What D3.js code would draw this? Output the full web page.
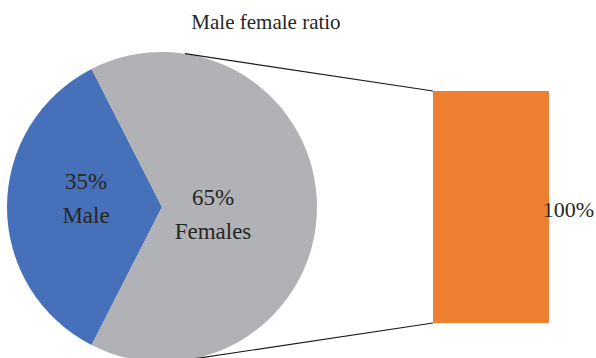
<!DOCTYPE html>
<html>
<head>
<meta charset="utf-8">
<script src="https://cdn.jsdelivr.net/npm/d3@7"></script>
<style>
  body { margin: 0; background: #fff; }
  svg text { font-family: "Liberation Serif", "Times New Roman", "DejaVu Serif", serif; fill: #262626; }
</style>
</head>
<body>
<div id="graphic"></div>
<script>
// chart data
var categories = ["Male", "Females"];
var values = [35, 65];
var barCategories = ["Females"];
var barValues = [100];
var colours = ["#4670B9", "#B1B2B5"];
var barColour = "#EE7F31";

var width = 596, height = 358;

var svg = d3.select("#graphic").append("svg")
  .attr("width", width)
  .attr("height", height);

// title
svg.append("text")
  .attr("x", 266)
  .attr("y", 29)
  .attr("text-anchor", "middle")
  .style("font-size", "21px")
  .text("Male female ratio");

// pie
var cx = 162, cy = 207, radius = 155;
var data = d3.zip(categories, values);

var pie = d3.pie()
  .value(d => d[1])
  .sort(null)
  .startAngle(-Math.PI * 0.35 - Math.PI / 2)
  .endAngle(Math.PI * 2 - Math.PI * 0.35 - Math.PI / 2);

var arcs = pie(data);
var arc = d3.arc().innerRadius(0).outerRadius(radius);

var pieG = svg.append("g").attr("transform", "translate(" + cx + "," + cy + ")");

pieG.selectAll("path")
  .data(arcs)
  .join("path")
  .attr("d", arc)
  .attr("fill", (d, i) => colours[i]);

var labelPos = [[-76, -18], [51, -2]];
var labels = pieG.selectAll("g.label")
  .data(arcs)
  .join("g")
  .attr("class", "label")
  .attr("transform", (d, i) => "translate(" + labelPos[i][0] + "," + labelPos[i][1] + ")");

labels.append("text")
  .attr("text-anchor", "middle")
  .style("font-size", "23px")
  .text(d => d.data[1] + "%");

labels.append("text")
  .attr("text-anchor", "middle")
  .attr("y", 34)
  .style("font-size", "23px")
  .text(d => d.data[0]);

// bar
var y = d3.scaleLinear().domain([0, 100]).range([323, 91]);
var barX = 433, barW = 116;

svg.selectAll("rect.bar")
  .data(barValues)
  .join("rect")
  .attr("class", "bar")
  .attr("x", barX)
  .attr("width", barW)
  .attr("y", d => y(d))
  .attr("height", d => y(0) - y(d))
  .attr("fill", barColour);

svg.selectAll("text.barlabel")
  .data(barValues)
  .join("text")
  .attr("class", "barlabel")
  .attr("x", 594)
  .attr("text-anchor", "end")
  .attr("y", d => (y(d) + y(0)) / 2 + 10)
  .style("font-size", "22px")
  .text(d => d + "%");

// connector lines from pie edge to bar corners
var topAng = 8.5 * Math.PI / 180, botAng = 174 * Math.PI / 180;
var connectors = [
  [cx + radius * Math.sin(topAng), cy - radius * Math.cos(topAng), barX, y(100)],
  [cx + radius * Math.sin(botAng), cy - radius * Math.cos(botAng), barX, y(0)]
];

svg.selectAll("line.conn")
  .data(connectors)
  .join("line")
  .attr("class", "conn")
  .attr("x1", d => d[0]).attr("y1", d => d[1])
  .attr("x2", d => d[2]).attr("y2", d => d[3])
  .attr("stroke", "#1a1a1a")
  .attr("stroke-width", 1.2);
</script>
</body>
</html>
